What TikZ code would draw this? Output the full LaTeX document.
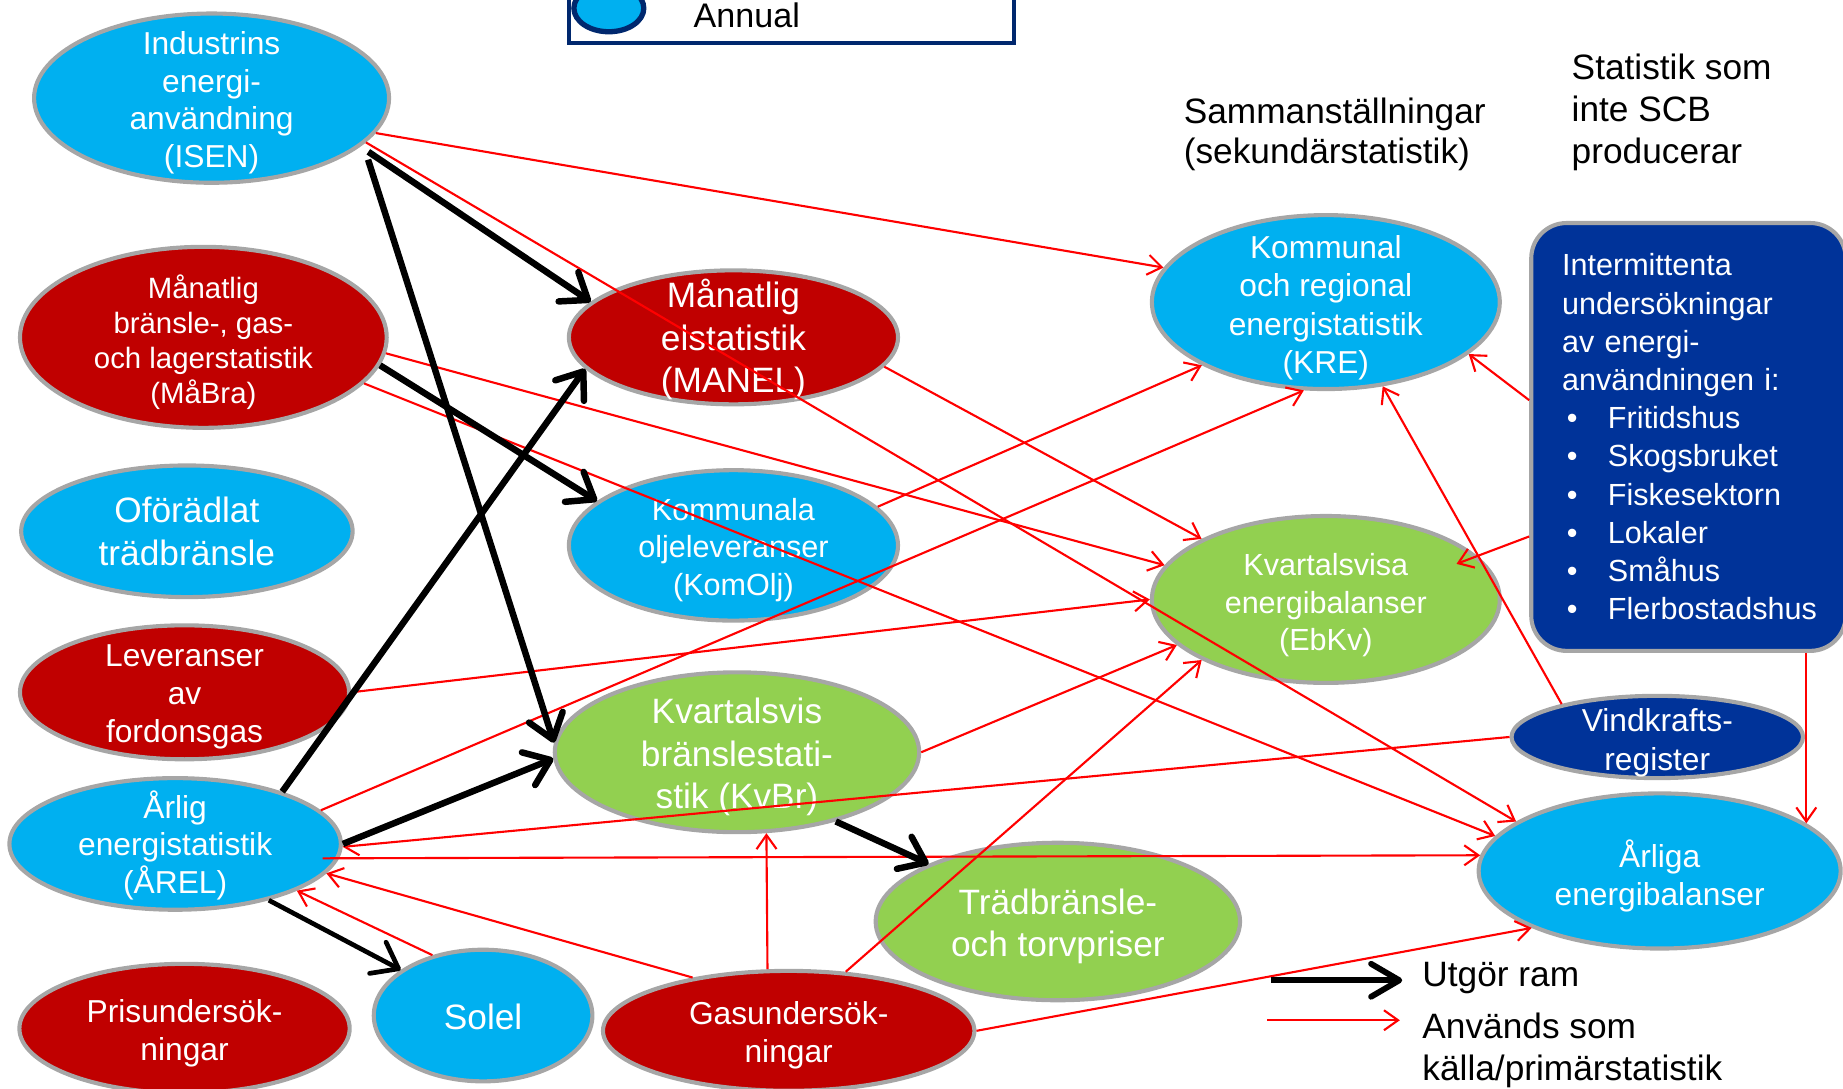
\documentclass[tikz,border=0pt]{standalone}
\usepackage{fontspec}
\setmainfont{Liberation Sans}
\usetikzlibrary{arrows.meta,shapes.geometric}
\definecolor{ljusbla}{RGB}{0,176,240}
\definecolor{morkrod}{RGB}{192,0,0}
\definecolor{gron}{RGB}{146,208,80}
\definecolor{kantgra}{RGB}{166,166,166}
\definecolor{marin}{RGB}{0,51,153}
\definecolor{legendbla}{RGB}{0,40,110}
\definecolor{linjerod}{RGB}{255,0,0}
\newcommand{\fs}[2]{\fontsize{#1}{#2}\selectfont}
\newcommand{\punkt}[1]{\mbox{\hspace*{4pt}\makebox[35pt][l]{•}#1}}

\begin{document}
\begin{tikzpicture}[x=1pt, y=1pt,
        stat/.style={ellipse, draw=kantgra, line width=3.5pt, inner sep=0pt, fill=#1},
        txt/.style={text=white, align=center, yshift=#1},
        txt/.default=-4pt,
        rubrik/.style={anchor=west, align=left, inner sep=0pt, font=\fs{30}{34}},
        boks/.style={rectangle, rounded corners=30pt, draw=kantgra, line width=3.5pt, fill=marin, text=white,
            minimum width=267.5, minimum height=364, text width=215, inner xsep=26, inner ysep=0pt,
            align=left, font=\fs{26}{32.5}},
        ram/.style={line width=5.5pt, -{Straight Barb[length=20pt,width=30pt,round]}},
        kalla/.style={linjerod, line width=1.8pt, -{Straight Barb[length=12pt,width=17pt]}}]
        \useasboundingbox (0,0) rectangle (1568,-926.5);

        \node[draw=legendbla, line width=3.4pt, minimum width=378.6, minimum height=54, inner sep=0pt] (legend) at (673,-10) {};
        \node[ellipse, draw=legendbla, line width=4.5pt, fill=ljusbla, minimum width=59.5, minimum height=40, inner sep=0pt] (annualell) at (518,-7) {};
        \node[anchor=base west, inner sep=0pt, font=\fs{29}{35}] (annual) at (590,-23) {Annual};

        \node[stat=ljusbla, minimum width=302, minimum height=144, label={[txt,font=\fs{27}{32}]center:{Industrins\\energi-\\användning\\(ISEN)}}] (isen) at (180,-83.5) {};
        \node[stat=morkrod, minimum width=312, minimum height=154, label={[txt,font=\fs{25}{29.7}]center:{Månatlig\\bränsle-, gas-\\och lagerstatistik\\(MåBra)}}] (mabra) at (173,-287) {};
        \node[stat=ljusbla, minimum width=282, minimum height=112, label={[txt=0pt,font=\fs{30}{36}]center:{Oförädlat\\trädbränsle}}] (ofor) at (159,-452) {};
        \node[stat=morkrod, minimum width=280, minimum height=114, label={[txt,font=\fs{27}{32.5}]center:{Leveranser\\av\\fordonsgas}}] (lev) at (157,-589) {};
        \node[stat=ljusbla, minimum width=282, minimum height=112, label={[txt=-1pt,font=\fs{27}{32}]center:{Årlig\\energistatistik\\(ÅREL)}}] (arel) at (149,-718) {};
        \node[stat=morkrod, minimum width=281, minimum height=110, label={[txt,font=\fs{27}{32}]center:{Prisundersök-\\ningar}}] (pris) at (157,-875) {};
        \node[stat=ljusbla, minimum width=186, minimum height=112, label={[txt=-1pt,font=\fs{30}{36}]center:{Solel}}] (solel) at (411,-864) {};
        \node[stat=morkrod, minimum width=280, minimum height=114, label={[txt=-2pt,font=\fs{30}{36}]center:{Månatlig\\elstatistik\\(MANEL)}}] (manel) at (624,-287) {};
        \node[stat=ljusbla, minimum width=280, minimum height=128, label={[txt,font=\fs{26}{31.5}]center:{Kommunala\\oljeleveranser\\(KomOlj)}}] (komolj) at (624,-464) {};
        \node[stat=gron, minimum width=310, minimum height=136, label={[txt,font=\fs{30}{36.5}]center:{Kvartalsvis\\bränslestati-\\stik (KvBr)}}] (kvbr) at (627,-640) {};
        \node[stat=morkrod, minimum width=316, minimum height=102, label={[txt,font=\fs{27}{32}]center:{Gasundersök-\\ningar}}] (gas) at (671,-877) {};
        \node[stat=gron, minimum width=310, minimum height=134, label={[txt,font=\fs{30}{36}]center:{Trädbränsle-\\och torvpriser}}] (trad) at (900,-784) {};
        \node[stat=ljusbla, minimum width=296, minimum height=148, label={[txt=-5pt,font=\fs{27}{32.7}]center:{Kommunal\\och regional\\energistatistik\\(KRE)}}] (kre) at (1128,-257) {};
        \node[stat=gron, minimum width=296, minimum height=142, label={[txt=-5pt,font=\fs{26}{32}]center:{Kvartalsvisa\\energibalanser\\(EbKv)}}] (ebkv) at (1128,-510) {};
        \node[stat=marin, minimum width=248, minimum height=70, label={[txt=-5pt,font=\fs{27}{33}]center:{Vindkrafts-\\register}}] (vind) at (1410,-627) {};
        \node[stat=ljusbla, minimum width=308, minimum height=132, label={[txt,font=\fs{27}{32}]center:{Årliga\\energibalanser}}] (arliga) at (1412,-741) {};

        \node[boks] (interm) at (1436.5,-371.75) {\mbox{Intermittenta}\\\mbox{undersökningar}\\\mbox{av energi-}\\\mbox{användningen i:}\\
            \punkt{Fritidshus}\\\punkt{Skogsbruket}\\\punkt{Fiskesektorn}\\\punkt{Lokaler}\\\punkt{Småhus}\\\punkt{Flerbostadshus}};

        \node[rubrik] (samman) at (1007,-114.7) {Sammanställningar\\(sekundärstatistik)};
        \node[rubrik, font=\fs{30}{36}] (ejscb) at (1337,-95.6) {Statistik som\\inte SCB\\producerar};

        \draw[kalla] (isen.-12.3) -- (kre.168.9);
        \draw[kalla] (isen.-16) -- (arliga.161.05);
        \draw[kalla] (mabra.-5.6) -- (ebkv.168.5);
        \draw[kalla] (mabra.-16.3) -- (arliga.168.4);
        \draw[kalla] (manel.-11.6) -- (ebkv.154.5);
        \draw[kalla] (komolj.15.6) -- (kre.-153.2);
        \draw[kalla] (arel.13.5) -- (kre.-104.4);
        \draw[kalla] (lev.0.8) -- (ebkv.180);
        \draw[kalla] (kvbr.0) -- (ebkv.-163.3);
        \draw[kalla] (gas.46.2) -- (ebkv.-154.1);
        \draw[kalla] (vind.180) -- (arel.-1.9);
        \draw[kalla, shorten <=-14pt] (arel.-5.9) -- (arliga.175.2);
        \draw[kalla] (gas.151.8) -- (arel.-11);
        \draw[kalla] (solel.130.5) -- (arel.-21.1);
        \draw[kalla] (gas.109.1) -- (kvbr.-70.3);
        \draw[kalla] (gas.0) -- (arliga.-156.9);
        \draw[kalla] (interm.167.7) -- (kre.-20.6);
        \draw[kalla, shorten >=-19pt] (interm.-148.6) -- (ebkv.16.4);
        \draw[kalla] (interm.south -| arliga.18) -- (arliga.18);
        \draw[kalla] (vind.161.8) -- (kre.-56.8);

        \draw[ram, shorten <=8pt] (isen.-18.7) -- (manel.166.7);
        \draw[ram, shorten <=13.5pt] (isen.-17.1) -- (kvbr.177.4);
        \draw[ram] (mabra.-9.7) -- (komolj.162);
        \draw[ram] (arel.26.6) -- (manel.-168.7);
        \draw[ram] (arel.0.4) -- (kvbr.-178.9);
        \draw[ram, line width=4pt] (arel.-31.7) -- (solel.151.8);
        \draw[ram] (kvbr.-35.1) -- (trad.156);

        \coordinate (ramstart) at (1081,-834);
        \coordinate (ramslut) at (1193,-834);
        \coordinate (kallastart) at (1078,-868);
        \coordinate (kallaslut) at (1191,-868);
        \draw[ram, line width=5pt, -{Straight Barb[length=24pt,width=28pt,round]}] (ramstart) -- (ramslut);
        \draw[kalla] (kallastart) -- (kallaslut);
        \node[rubrik] (ramtext) at (1210,-832) {Utgör ram};
        \node[rubrik, font=\fs{30}{35.4}] (kallatext) at (1210,-893.5) {Används som\\källa/primärstatistik};
\end{tikzpicture}
\end{document}
